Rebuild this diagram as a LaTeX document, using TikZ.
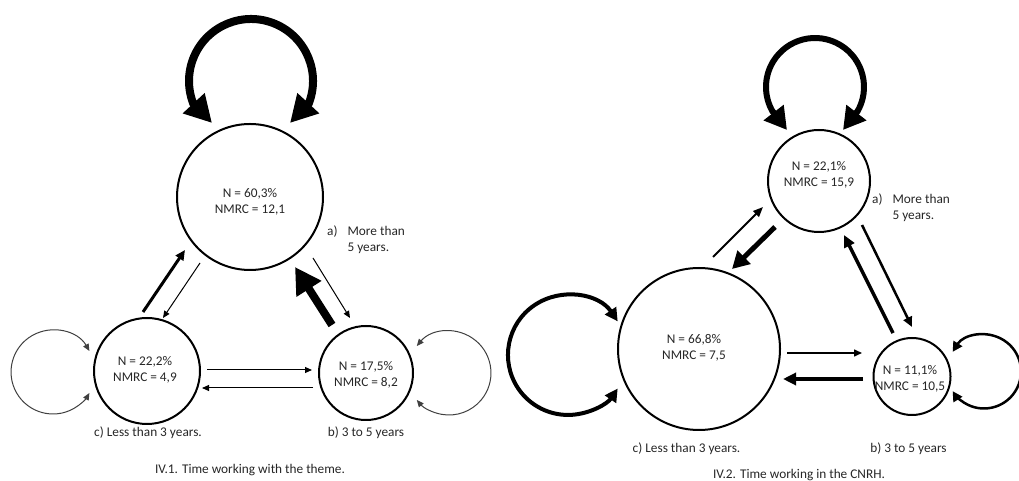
\documentclass[tikz,border=0pt]{standalone}
\usepackage{fontspec}
\setmainfont{Carlito}
\usetikzlibrary{arrows.meta,calc}
\newcommand\myfs{\fontsize{13.3}{16}\selectfont}
\begin{document}
\begin{tikzpicture}[x=1pt,y=1pt,
  state/.style={circle, draw, line width=2pt, inner sep=0pt},
  txt/.style={align=center, font=\myfs, text=black!85, inner sep=0pt},
  lbl/.style={font=\myfs, text=black!85, inner sep=0pt, anchor=base},
  conn/.style n args={3}{line width=#1, -{Triangle[length=#2,width=#3]}},
  selfc/.style n args={3}{line width=#1, {Triangle[length=#2,width=#3]}-{Triangle[length=#2,width=#3]}}]
\useasboundingbox (0,0) rectangle (1019,481);

% ---------- left diagram ----------
\node[state, minimum size=146pt] (a1) at (250,284) {};
\node[state, minimum size=106pt] (c1) at (147,110) {};
\node[state, minimum size=94pt]  (b1) at (366,108) {};
\node[txt] (a1t) at (250,279.5) {N = 60,3\%\\NMRC = 12,1};
\node[txt] (c1t) at (145,111) {N = 22,2\%\\NMRC = 4,9};
\node[txt] (b1t) at (366,106) {N = 17,5\%\\NMRC = 8,2};

\node[txt, anchor=west] (a1l) at (327,241) {\begin{tabular}{@{}l@{\hspace{10pt}}l@{}}a) & More than\\ & 5 years.\end{tabular}};
\node[lbl] (c1l) at (148,44) {c) Less than 3 years.};
\node[lbl] (b1l) at (366,44) {b) 3 to 5 years};
\node[lbl] (t1) at (250,7) {IV.1. Time working with the theme.};

% self loop of a1 (arc + two heads)
\draw[line width=8pt] ($(a1)+(1,116)+(-23:62)$) arc[start angle=-23, end angle=203, radius=62];
\draw[conn={8pt}{27pt}{28pt}] ($(a1)+(1,116)+(200:62)$) -- ($(a1)+(-38,74)$);
\draw[conn={8pt}{27pt}{28pt}] ($(a1)+(1,116)+(-20:62)$) -- ($(a1)+(40,74)$);

\draw[conn={3pt}{10pt}{9pt}] ($(c1)+(-4,59)$) -- ($(a1)+(-65,-53)$);
\draw[conn={1pt}{7pt}{6pt}] ($(a1)+(-50,-66)$) -- ($(c1)+(16,53)$);
\draw[conn={8pt}{26pt}{28pt}] ($(b1)+(-34,48)$) -- ($(a1)+(45,-70)$);
\draw[conn={1pt}{7pt}{6pt}] ($(a1)+(63,-61)$) -- ($(b1)+(-16,55)$);
\draw[conn={1pt}{7pt}{6pt}] ($(c1)+(60,1)$) -- ($(b1)+(-54,3)$);
\draw[conn={1pt}{7pt}{6pt}] ($(b1)+(-53,-15)$) -- ($(c1)+(55,-17)$);
\draw[selfc={1pt}{7pt}{6pt}, black!75] ($(c1)+(-57.6,20)$) arc[start angle=30, end angle=330, radius=42];
\draw[selfc={1pt}{7pt}{6pt}, black!75] ($(b1)+(50.8,27)$) arc[start angle=140, end angle=-140, radius=42];

% ---------- right diagram ----------
\node[state, minimum size=102pt] (a2) at (819,300) {};
\node[state, minimum size=162pt] (c2) at (699,132) {};
\node[state, minimum size=77pt]  (b2) at (912,104.5) {};
\node[txt] (a2t) at (819,306) {N = 22,1\%\\NMRC = 15,9};
\node[txt] (c2t) at (694,133) {N = 66,8\%\\NMRC = 7,5};
\node[txt] (b2t) at (910,102.5) {N = 11,1\%\\NMRC = 10,5};

\node[txt, anchor=west] (a2l) at (872,273) {\begin{tabular}{@{}l@{\hspace{10pt}}l@{}}a) & More than\\ & 5 years.\end{tabular}};
\node[lbl] (c2l) at (686.5,28) {c) Less than 3 years.};
\node[lbl] (b2l) at (908.5,28) {b) 3 to 5 years};
\node[lbl] (t2) at (799,2.5) {IV.2. Time working in the CNRH.};

% self loop of a2
\draw[line width=6pt] ($(a2)+(-4,94)+(-31:49)$) arc[start angle=-31, end angle=211, radius=49];
\draw[conn={6pt}{22pt}{24pt}] ($(a2)+(-4,94)+(209:49)$) -- ($(a2)+(-32,51)$);
\draw[conn={6pt}{22pt}{24pt}] ($(a2)+(-4,94)+(-29:49)$) -- ($(a2)+(24,51)$);

\draw[conn={2pt}{10pt}{8pt}] ($(c2)+(14,92)$) -- ($(a2)+(-56,-26)$);
\draw[conn={5pt}{17pt}{18pt}] ($(a2)+(-44,-46)$) -- ($(c2)+(33,80)$);
\draw[conn={3.5pt}{12pt}{11pt}] ($(b2)+(-19,43.5)$) -- ($(a2)+(25,-54)$);
\draw[conn={2.5pt}{10pt}{9pt}] ($(a2)+(43,-44)$) -- ($(b2)+(0,49.5)$);
\draw[conn={1.5pt}{8pt}{7pt}] ($(c2)+(88,-4)$) -- ($(b2)+(-50,23.5)$);
\draw[conn={4pt}{13pt}{12pt}] ($(b2)+(-49,-2.5)$) -- ($(c2)+(84,-30)$);
\draw[selfc={4pt}{13pt}{13pt}] ($(c2)+(-81.3,27.6)$) arc[start angle=34, end angle=326, radius=60];
\draw[selfc={2.5pt}{10pt}{10pt}] ($(b2)+(72,5)+(148:37)$) arc[start angle=148, end angle=-148, radius=37];
\end{tikzpicture}
\end{document}
